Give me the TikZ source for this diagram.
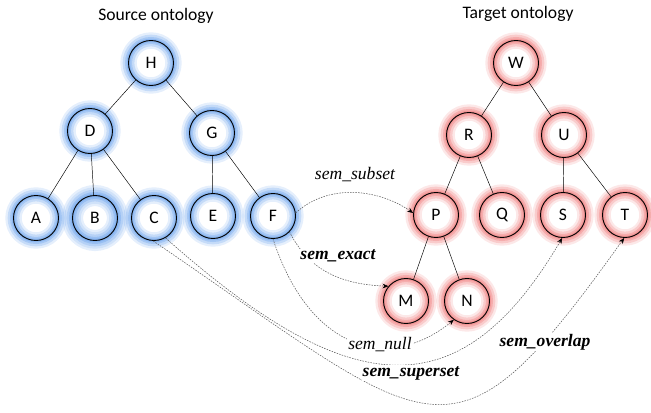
\documentclass[tikz,border=0pt]{standalone}
\usepackage{fontspec}
\setmainfont{Liberation Serif}
\newfontfamily\ontofont{Carlito}
\usetikzlibrary{arrows.meta}

\definecolor{srcglow}{RGB}{95,155,235}
\definecolor{tgtglow}{RGB}{238,110,110}

\tikzset{
  glow/.style={preaction={draw=#1,line width=14pt,opacity=.16},
               preaction={draw=#1,line width=10pt,opacity=.24},
               preaction={draw=#1,line width=6pt,opacity=.32},
               preaction={draw=#1,line width=3pt,opacity=.35}},
  concept/.style={circle,draw,line width=0.8pt,minimum size=1.35cm,inner sep=0pt,
                  font=\ontofont\fontsize{15}{18}\selectfont},
  src/.style={concept,glow=srcglow},
  tgt/.style={concept,glow=tgtglow},
  map/.style={dash pattern=on 1.3pt off 1pt,gray!70!black,line width=0.45pt,
              -{Stealth[black,length=5pt,width=4pt]}},
  maplabel/.style={fill=white,inner sep=1pt,font=\fontsize{15}{18}\selectfont\itshape},
}

\begin{document}
\begin{tikzpicture}[x=0.03cm,y=0.03cm]
\useasboundingbox (0,0) rectangle (651,412);

\node[font=\ontofont\fontsize{15}{18}\selectfont] (srctitle) at (156,396) {Source ontology};
\node[font=\ontofont\fontsize{15}{18}\selectfont] (tgttitle) at (518,398) {Target ontology};

\node[src] (H) at (151,349) {H};
\node[src] (D) at (90,281) {D};
\node[src] (G) at (212,279) {G};
\node[src] (A) at (36,194) {A};
\node[src,preaction={draw=srcglow,line width=18pt,opacity=.16}] (B) at (95,194) {B};
\node[src] (C) at (154,194) {C};
\node[src] (E) at (213,196) {E};
\node[src] (F) at (273,196) {F};

\node[tgt] (W) at (516,349) {W};
\node[tgt] (R) at (469,277) {R};
\node[tgt] (U) at (564,277) {U};
\node[tgt] (P) at (436,197) {P};
\node[tgt] (Q) at (502,197) {Q};
\node[tgt] (S) at (563,197) {S};
\node[tgt] (T) at (625,197) {T};
\node[tgt] (M) at (406,111) {M};
\node[tgt] (N) at (467,111) {N};

\draw (H) -- (D);
\draw (H) -- (G);
\draw (D) -- (A);
\draw (D) -- (B);
\draw (D) -- (C);
\draw (G) -- (E);
\draw (G) -- (F);

\draw (W) -- (R);
\draw (W) -- (U);
\draw (R) -- (P);
\draw (R) -- (Q);
\draw (U) -- (S);
\draw (U) -- (T);
\draw (P) -- (M);
\draw (P) -- (N);

\draw[map] (F.8) .. controls (330,230) and (380,222) .. (P.175);
\draw[map] (F.-44) .. controls (305,150) and (330,128) .. (M.140);
\draw[map] (F.-90) .. controls (310,60) and (390,40) .. (N.235);
\draw[map] (C.-60) .. controls (350,10) and (460,0) .. (S.-92);
\draw[map] (C.-92) .. controls (438,-23) and (450,-70) .. (T.-92);

\node[maplabel,fill=none] (subset) at (355,237) {sem\_subset};
\node[maplabel,font=\fontsize{15}{18}\selectfont\bfseries\itshape] (exact) at (338,156) {sem\_exact};
\node[maplabel] (null) at (380,67) {sem\_null};
\node[maplabel,font=\fontsize{15}{18}\selectfont\bfseries\itshape] (superset) at (411,39) {sem\_superset};
\node[maplabel,font=\fontsize{15}{18}\selectfont\bfseries\itshape] (overlap) at (545,70) {sem\_overlap};
\end{tikzpicture}
\end{document}
